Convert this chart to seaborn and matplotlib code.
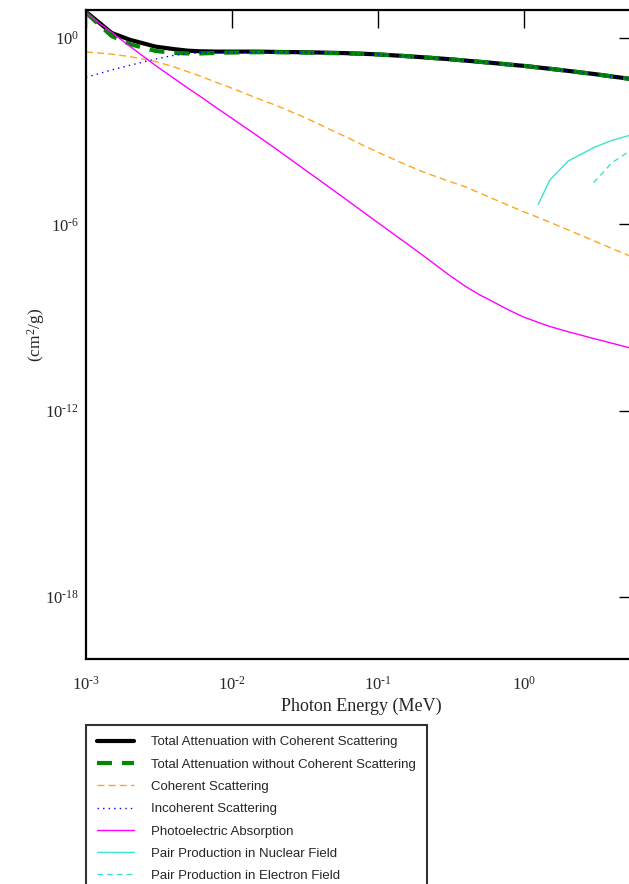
import matplotlib
matplotlib.use("Agg")
import matplotlib.pyplot as plt
from matplotlib.ticker import NullLocator, FuncFormatter
import numpy as np
import seaborn as sns

# ---------------- data ----------------
energy = [1e-3, 1.5e-3, 2e-3, 3e-3, 4e-3, 5e-3, 6e-3, 8e-3, 1e-2, 1.5e-2, 2e-2,
          3e-2, 4e-2, 5e-2, 6e-2, 8e-2, 0.1, 0.15, 0.2, 0.3, 0.4, 0.5, 0.6, 0.8,
          1.0, 1.25, 1.5, 2.0, 3.0, 4.0, 5.0, 6.0]

total_with_coh = [6.92, 1.445, 0.871, 0.525, 0.437, 0.389, 0.372, 0.363, 0.363,
                  0.363, 0.355, 0.347, 0.339, 0.331, 0.324, 0.309, 0.295, 0.263,
                  0.240, 0.209, 0.186, 0.170, 0.158, 0.138, 0.126, 0.112, 0.102,
                  0.0871, 0.0692, 0.0575, 0.0501, 0.0447]

total_without_coh = [6.46, 1.148, 0.631, 0.380, 0.331, 0.316, 0.316, 0.331, 0.339,
                     0.347, 0.347, 0.339, 0.331, 0.324, 0.316, 0.309, 0.295, 0.263,
                     0.240, 0.209, 0.186, 0.170, 0.158, 0.138, 0.126, 0.112, 0.102,
                     0.0871, 0.0692, 0.0575, 0.0501, 0.0447]

coherent = [0.355, 0.302, 0.251, 0.174, 0.117, 0.0813, 0.0603, 0.0355, 0.0240,
            0.0112, 6.76e-3, 3.02e-3, 1.62e-3, 9.77e-4, 6.61e-4, 3.39e-4, 2.09e-4,
            8.91e-5, 5.01e-5, 2.51e-5, 1.58e-5, 1.0e-5, 6.92e-6, 3.89e-6, 2.51e-6,
            1.66e-6, 1.17e-6, 6.61e-7, 2.95e-7, 1.66e-7, 1.07e-7, 7.41e-8]

incoherent = [0.0537, 0.0933, 0.132, 0.209, 0.275, 0.316, 0.331, 0.339, 0.339,
              0.347, 0.347, 0.339, 0.331, 0.324, 0.316, 0.309, 0.295, 0.263,
              0.240, 0.209, 0.186, 0.170, 0.158, 0.138, 0.126, 0.112, 0.102,
              0.0871, 0.0692, 0.0575, 0.0501, 0.0447]

photoelectric = [6.31, 1.51, 0.537, 0.129, 0.0501, 0.0240, 0.0135, 5.25e-3, 2.57e-3,
                 6.92e-4, 2.69e-4, 6.76e-5, 2.57e-5, 1.20e-5, 6.46e-6, 2.40e-6,
                 1.12e-6, 2.82e-7, 1.05e-7, 2.51e-8, 9.77e-9, 5.25e-9, 3.39e-9,
                 1.66e-9, 1.02e-9, 6.92e-10, 5.13e-10, 3.47e-10, 2.09e-10,
                 1.48e-10, 1.12e-10, 9.12e-11]

pair_nuc_energy = [1.25, 1.5, 2.0, 3.0, 4.0, 5.0, 6.0]
pair_nuclear = [4.27e-6, 2.63e-5, 1.07e-4, 2.95e-4, 5.01e-4, 6.76e-4, 8.71e-4]

pair_el_energy = [3.0, 4.0, 5.0, 6.0]
pair_electron = [2.19e-5, 9.55e-5, 1.91e-4, 3.16e-4]

x_ticks = [1e-3, 1e-2, 1e-1, 1e0]
y_ticks = [1e-18, 1e-12, 1e-6, 1e0]

labels = ["Total Attenuation with Coherent Scattering",
          "Total Attenuation without Coherent Scattering",
          "Coherent Scattering",
          "Incoherent Scattering",
          "Photoelectric Absorption",
          "Pair Production in Nuclear Field",
          "Pair Production in Electron Field"]

# ---------------- style ----------------
sns.set_style("white")
plt.rcParams["font.family"] = ["Liberation Serif", "DejaVu Serif"]
plt.rcParams["mathtext.fontset"] = "custom"
plt.rcParams["mathtext.rm"] = "Liberation Serif"
plt.rcParams["mathtext.it"] = "Liberation Serif:italic"
plt.rcParams["axes.unicode_minus"] = False

W, H = 629, 884
fig = plt.figure(figsize=(W / 100, H / 100), dpi=100, facecolor="white")
ax = fig.add_axes([86 / W, 1 - 659 / H, (637 - 86) / W, (659 - 10) / H])
ax.set_xscale("log")
ax.set_yscale("log")

sns.lineplot(x=energy, y=total_with_coh, ax=ax, color="black", lw=3.0,
             label=labels[0], estimator=None, sort=False)
sns.lineplot(x=energy, y=total_without_coh, ax=ax, color="#008800", lw=3.0,
             linestyle=(0, (3.6, 2.4)), label=labels[1], estimator=None, sort=False)
sns.lineplot(x=energy, y=coherent, ax=ax, color="#FFA520", lw=1.0,
             linestyle=(0, (5, 3)), label=labels[2], estimator=None, sort=False)
sns.lineplot(x=energy, y=incoherent, ax=ax, color="#0000FF", lw=1.0,
             linestyle=(0, (1, 3)), label=labels[3], estimator=None, sort=False)
sns.lineplot(x=energy, y=photoelectric, ax=ax, color="#FF00FF", lw=1.0,
             label=labels[4], estimator=None, sort=False)
sns.lineplot(x=pair_nuc_energy, y=pair_nuclear, ax=ax, color="#40E0D0", lw=1.0,
             label=labels[5], estimator=None, sort=False)
sns.lineplot(x=pair_el_energy, y=pair_electron, ax=ax, color="#40E0D0", lw=1.0,
             linestyle=(0, (4, 3)), label=labels[6], estimator=None, sort=False)


def sci_label(v, pos):
    e = int(round(np.log10(v)))
    if e < 0:
        return r"$10^{\text{-}%d}$" % (-e)
    return r"$10^{%d}$" % e


ax.set_xticks(x_ticks)
ax.set_yticks(y_ticks)
ax.xaxis.set_major_formatter(FuncFormatter(sci_label))
ax.yaxis.set_major_formatter(FuncFormatter(sci_label))
ax.set_xlim(1e-3, 10 ** 0.774)
ax.set_ylim(1e-20, 10 ** 0.90)
ax.xaxis.set_minor_locator(NullLocator())
ax.yaxis.set_minor_locator(NullLocator())
ax.tick_params(axis="both", which="major", direction="in", length=13, width=1.0,
               top=True, right=True, labelsize=12, color="black")
ax.tick_params(axis="x", pad=12)
ax.tick_params(axis="y", pad=5)
for s in ax.spines.values():
    s.set_linewidth(1.6)
    s.set_color("black")

ax.set_xlabel("Photon Energy (MeV)", fontsize=13, labelpad=3)
ax.set_ylabel("(cm$^2$/g)", fontsize=12.5, labelpad=-1)

handles, labs = ax.get_legend_handles_labels()
ax.get_legend().remove()
leg = fig.legend(handles, labs, loc="upper left",
                 bbox_to_anchor=(86 / W, 1 - 725 / H), borderaxespad=0,
                 frameon=True, fancybox=False, edgecolor="black",
                 prop={"family": "Liberation Sans", "size": 9.5},
                 handlelength=2.8, handletextpad=1.3, borderpad=0.85,
                 labelspacing=0.76)
leg.get_frame().set_linewidth(1.5)

fig.savefig("out.png", dpi=100, facecolor="white")
